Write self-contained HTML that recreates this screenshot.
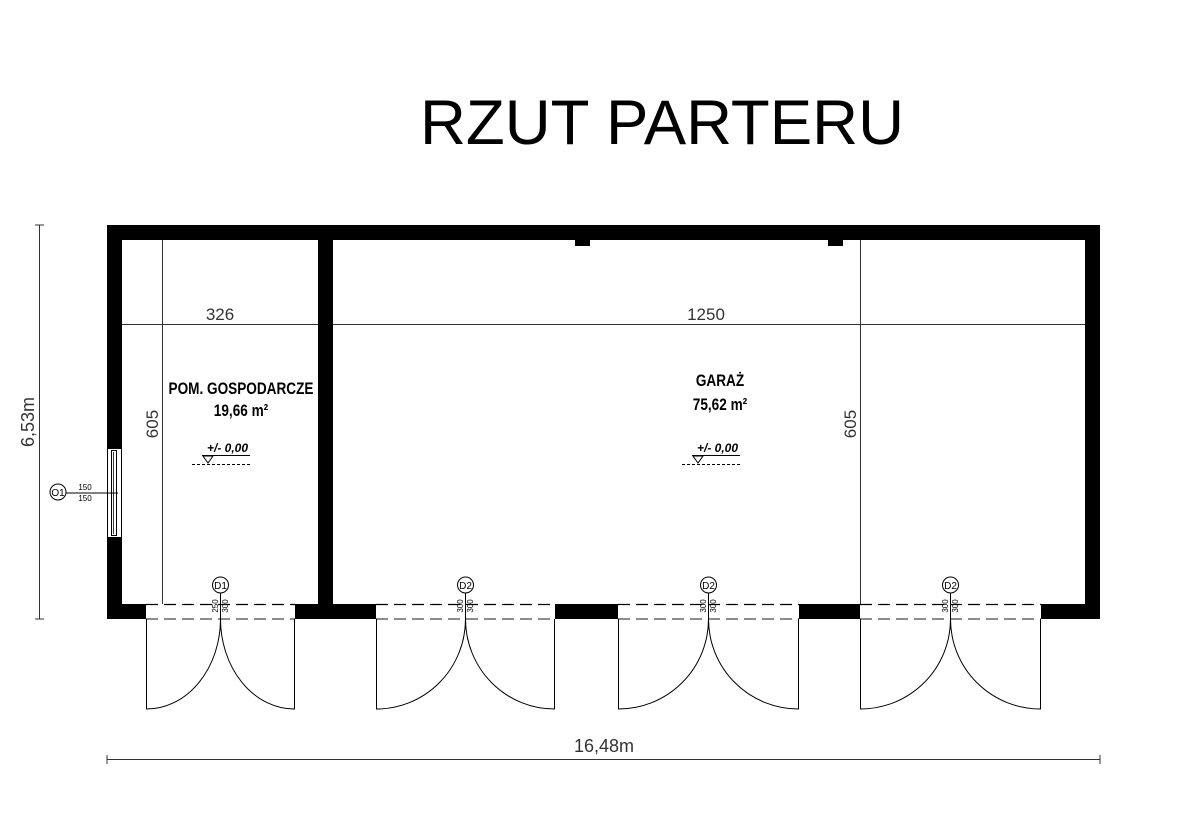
<!DOCTYPE html>
<html><head><meta charset="utf-8"><style>
html,body{margin:0;padding:0;background:#fff;}
svg{display:block;font-family:"Liberation Sans",sans-serif;}
</style></head><body>
<svg width="1201" height="840" viewBox="0 0 1201 840" xmlns="http://www.w3.org/2000/svg">
<text x="662" y="144" font-size="63" text-anchor="middle" fill="#000" textLength="484" lengthAdjust="spacingAndGlyphs">RZUT PARTERU</text>

<g fill="#000">
<rect x="107" y="225" width="993" height="15"/>
<rect x="107" y="225" width="15" height="223"/>
<rect x="107" y="538" width="15" height="81"/>
<rect x="1085" y="225" width="15" height="394"/>
<rect x="318" y="240" width="15" height="379"/>
<rect x="107" y="604" width="39" height="15"/>
<rect x="295" y="604" width="81" height="15"/>
<rect x="555" y="604" width="63" height="15"/>
<rect x="799" y="604" width="61" height="15"/>
<rect x="1041" y="604" width="59" height="15"/>
<rect x="575" y="240" width="15" height="6"/>
<rect x="828" y="240" width="15" height="6"/>
</g>
<rect x="107.5" y="448.5" width="14" height="89" fill="#fff" stroke="#000" stroke-width="1"/>
<rect x="111.5" y="450.5" width="5" height="85" fill="none" stroke="#000" stroke-width="1"/>
<line x1="113.5" y1="452" x2="113.5" y2="534" stroke="#000" stroke-width="0.8"/>

<g stroke="#333" stroke-width="1" fill="none">
<line x1="122" y1="324.5" x2="318" y2="324.5"/>
<line x1="333" y1="324.5" x2="1085" y2="324.5"/>
<line x1="162.5" y1="240" x2="162.5" y2="604"/>
<line x1="860.5" y1="240" x2="860.5" y2="604"/>
<line x1="39.5" y1="225" x2="39.5" y2="619"/>
<line x1="35" y1="225" x2="44" y2="225"/><line x1="35" y1="619" x2="44" y2="619"/>
<line x1="107" y1="759.5" x2="1100" y2="759.5"/>
<line x1="107" y1="755" x2="107" y2="764"/><line x1="1100" y1="755" x2="1100" y2="764"/>
</g>
<text x="220" y="320" font-size="17" text-anchor="middle" fill="#333">326</text>
<text x="706" y="320" font-size="17" text-anchor="middle" fill="#333">1250</text>
<text transform="translate(158,424) rotate(-90)" font-size="17" text-anchor="middle" fill="#333">605</text>
<text transform="translate(856,424) rotate(-90)" font-size="17" text-anchor="middle" fill="#333">605</text>
<text transform="translate(34,422) rotate(-90)" font-size="18" text-anchor="middle" fill="#333">6,53m</text>
<text x="604" y="752" font-size="18" text-anchor="middle" fill="#333">16,48m</text>

<g font-weight="bold" fill="#000" text-anchor="middle" font-size="17">
<text x="241" y="394" transform="translate(241,0) scale(0.8,1) translate(-241,0)">POM. GOSPODARCZE</text>
<text x="241" y="416" transform="translate(241,0) scale(0.8,1) translate(-241,0)">19,66 m²</text>
<text x="720" y="386" transform="translate(720,0) scale(0.8,1) translate(-720,0)">GARAŻ</text>
<text x="720" y="410" transform="translate(720,0) scale(0.8,1) translate(-720,0)">75,62 m²</text>
</g>
<g font-weight="bold" font-style="italic" font-size="12" fill="#000">
<text x="207" y="452">+/- 0,00</text>
<text x="697" y="452">+/- 0,00</text>
</g>
<g stroke="#000" stroke-width="1" fill="none">
<line x1="202" y1="455.5" x2="250" y2="455.5"/>
<path d="M203,456 L213,456 L208,463 Z"/>
<line x1="192" y1="464.5" x2="252" y2="464.5" stroke-dasharray="3,2"/>
<line x1="692" y1="455.5" x2="740" y2="455.5"/>
<path d="M693,456 L703,456 L698,463 Z"/>
<line x1="682" y1="464.5" x2="742" y2="464.5" stroke-dasharray="3,2"/>
</g>

<circle cx="58" cy="492" r="8" fill="#fff" stroke="#000"/>
<text x="58" y="496" font-size="10" text-anchor="middle">O1</text>
<line x1="66" y1="493" x2="118" y2="493" stroke="#000"/>
<text x="85" y="490" font-size="8" text-anchor="middle">150</text>
<text x="85" y="501" font-size="8" text-anchor="middle">150</text>

<g stroke-width="1.2" fill="none">
<path d="M146,604.5 H295 M376,604.5 H555 M618,604.5 H799 M860,604.5 H1041" stroke="#000" stroke-dasharray="12,6"/>
<path d="M146,619 H295 M376,619 H555 M618,619 H799 M860,619 H1041" stroke="#666" stroke-width="1.5" stroke-dasharray="12,6"/>
</g>
<g stroke="#000" stroke-width="1" fill="none">
<path d="M146.5,619 V709 A74,90 0 0 0 220.5,619 A74,90 0 0 0 294.5,709 V619"/>
<path d="M376.5,619 V709 A89,90 0 0 0 465.5,619 A89,90 0 0 0 554.5,709 V619"/>
<path d="M618.5,619 V709 A90,90 0 0 0 708.5,619 A90,90 0 0 0 798.5,709 V619"/>
<path d="M860.5,619 V709 A90,90 0 0 0 950.5,619 A90,90 0 0 0 1040.5,709 V619"/>
</g>
<g font-size="10" text-anchor="middle">
<g stroke="#000" fill="#fff"><circle cx="220.5" cy="585" r="8"/><circle cx="465.5" cy="585" r="8"/><circle cx="708.5" cy="585" r="8"/><circle cx="950.5" cy="585" r="8"/></g>
<g stroke="#000"><line x1="220.5" y1="593" x2="220.5" y2="619"/><line x1="465.5" y1="593" x2="465.5" y2="619"/><line x1="708.5" y1="593" x2="708.5" y2="619"/><line x1="950.5" y1="593" x2="950.5" y2="619"/></g>
<text x="220.5" y="589">D1</text><text x="465.5" y="589">D2</text><text x="708.5" y="589">D2</text><text x="950.5" y="589">D2</text>
<g font-size="8">
<text transform="translate(218,606) rotate(-90)">250</text><text transform="translate(228,606) rotate(-90)">300</text>
<text transform="translate(463,606) rotate(-90)">300</text><text transform="translate(473,606) rotate(-90)">300</text>
<text transform="translate(706,606) rotate(-90)">300</text><text transform="translate(716,606) rotate(-90)">300</text>
<text transform="translate(948,606) rotate(-90)">300</text><text transform="translate(958,606) rotate(-90)">300</text>
</g>
</g>
</svg>
</body></html>
